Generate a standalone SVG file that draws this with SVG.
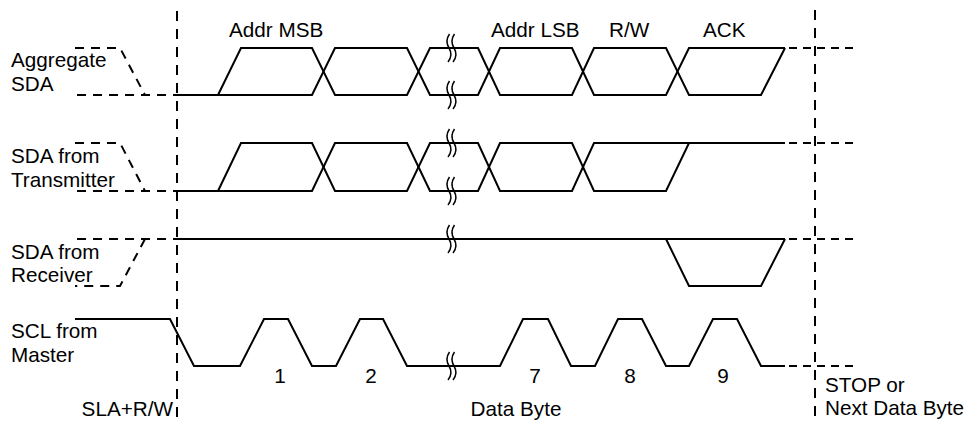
<svg xmlns="http://www.w3.org/2000/svg" width="970" height="421" viewBox="0 0 970 421">
<style>
text{font-family:"Liberation Sans",Arial,sans-serif;font-size:20.7px;fill:#000}
.w{fill:none;stroke:#000;stroke-width:2;stroke-linejoin:miter}
.d{fill:none;stroke:#000;stroke-width:2;stroke-dasharray:9 7}
.dr{fill:none;stroke:#000;stroke-width:2;stroke-dasharray:8 6}
.v{fill:none;stroke:#000;stroke-width:2;stroke-dasharray:10 8}
.m{text-anchor:middle}
</style>
<defs>
<path id="brk" d="M-3.5,-14 C-7,-9 -7,-5 -4,0 S-1,9 -5,14 M1.5,-14 C-2,-9 -2,-5 1,0 S4,9 0,14" fill="none" stroke="#000" stroke-width="1.5"/>
</defs>

<g id="connectors">
<line class="v" x1="177" y1="11" x2="177" y2="421"/>
<line class="v" x1="815" y1="10" x2="815" y2="421"/>
</g>

<g id="labels-top">
<text x="229" y="37">Addr MSB</text>
<text x="491" y="37">Addr LSB</text>
<text x="609" y="37">R/W</text>
<text x="703" y="37">ACK</text>
</g>

<g id="aggregate-sda">
<text x="11" y="67">Aggregate</text>
<text x="11" y="91">SDA</text>
<path class="d" d="M75,48 H120 L145,95"/>
<path class="d" d="M77,95 H177"/>
<path class="w" d="M177,95 H312 L335,48 H407 L430,95 H478 L500,48 H572 L594,95 H666 L689,48 H785"/>
<path class="w" d="M218,95 L241,48 H312 L335,95 H407 L430,48 H478 L500,95 H572 L594,48 H666 L689,95 H761 L785,48"/>
<path class="dr" d="M789,48 H853"/>
<use href="#brk" x="453" y="48"/>
<use href="#brk" x="453" y="95"/>
</g>

<g id="sda-transmitter">
<text x="11" y="163">SDA from</text>
<text x="11" y="187">Transmitter</text>
<path class="d" d="M75,143 H120 L145,191"/>
<path class="d" d="M77,191 H177"/>
<path class="w" d="M177,191 H312 L335,143 H407 L430,191 H478 L500,143 H572 L594,191 H666 L689,143 H785"/>
<path class="w" d="M218,191 L241,143 H312 L335,191 H407 L430,143 H478 L500,191 H572 L594,143 H785"/>
<path class="dr" d="M789,143 H853"/>
<use href="#brk" x="453" y="143"/>
<use href="#brk" x="453" y="191"/>
</g>

<g id="sda-receiver">
<text x="11" y="259">SDA from</text>
<text x="11" y="282">Receiver</text>
<path class="d" d="M77,239 H177"/>
<path class="d" d="M145,239 L120,286 H75"/>
<path class="w" d="M177,239 H785"/>
<path class="w" d="M666,239 L689,286 H761 L785,239"/>
<path class="dr" d="M789,239 H853"/>
<use href="#brk" x="453" y="239"/>
</g>

<g id="scl-master">
<text x="11" y="338">SCL from</text>
<text x="11" y="362">Master</text>
<path class="w" d="M75,319 H170 L194,366 H240 L264,319 H288 L312,366 H336 L360,319 H383 L407,366 H500 L523,319 H548 L571,366 H595 L618,319 H642 L666,366 H689 L713,319 H737 L761,366 H785"/>
<path class="dr" d="M789,366 H853"/>
<use href="#brk" x="453" y="366"/>
<text class="m" x="280" y="383">1</text>
<text class="m" x="371" y="383">2</text>
<text class="m" x="535" y="383">7</text>
<text class="m" x="630" y="383">8</text>
<text class="m" x="723" y="383">9</text>
</g>

<g id="labels-bottom">
<text x="173" y="416" text-anchor="end">SLA+R/W</text>
<text class="m" x="516" y="416">Data Byte</text>
<text x="825" y="392">STOP or</text>
<text x="825" y="415">Next Data Byte</text>
</g>
</svg>
